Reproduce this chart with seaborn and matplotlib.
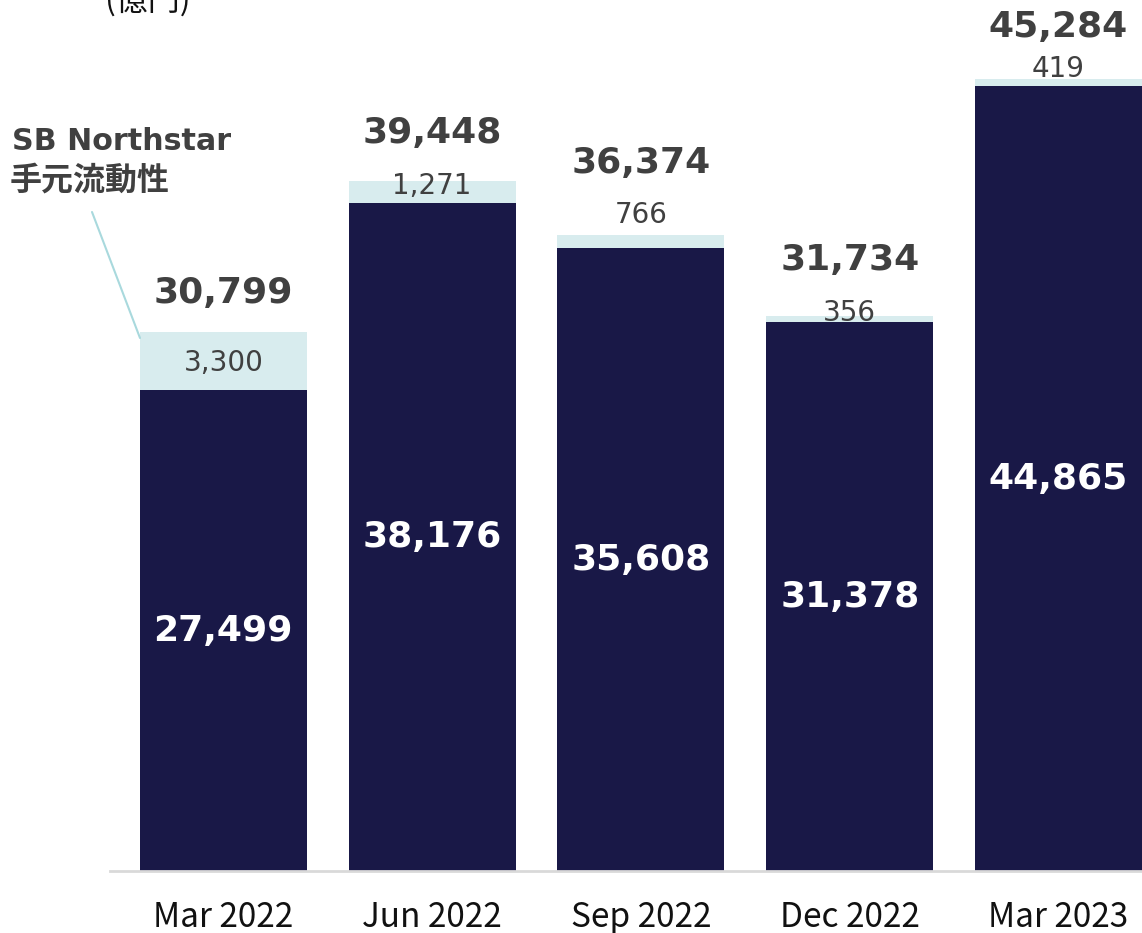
import matplotlib
matplotlib.use('Agg')
import matplotlib.pyplot as plt
import seaborn as sns

# data (億円)
periods = ['Mar 2022', 'Jun 2022', 'Sep 2022', 'Dec 2022', 'Mar 2023']
group_liquidity = [27499, 38176, 35608, 31378, 44865]
northstar_liquidity = [3300, 1271, 766, 356, 419]
totals = [30799, 39448, 36374, 31734, 45284]

dark = '#191847'
light = '#d8ecee'
grey = '#404040'

sns.set_theme(style='white')
plt.rcParams['font.family'] = ['DejaVu Sans', 'Noto Sans CJK JP']

fig = plt.figure(figsize=(11.42, 9.33), dpi=100)
ax = fig.add_axes([110 / 1142, 62 / 933, 1032 / 1142, 871 / 933])

sns.barplot(x=periods, y=totals, color=light, width=0.8, saturation=1, linewidth=0, ax=ax)
sns.barplot(x=periods, y=group_liquidity, color=dark, width=0.8, saturation=1, linewidth=0, ax=ax)

ax.set_xlim(-0.543, 4.4)
ax.set_ylim(0, 49800)
ax.set_yticks([])
ax.set_xlabel('')
ax.set_ylabel('')
for s in ['top', 'right', 'left']:
    ax.spines[s].set_visible(False)
ax.spines['bottom'].set_color('#d9d9d9')
ax.spines['bottom'].set_linewidth(2)
ax.tick_params(axis='x', length=0, pad=21, labelsize=24, labelcolor='#111111')
for t in ax.get_xticklabels():
    t.set_family(['Noto Sans CJK JP'])

# label offsets in pixels (small label relative to bar top, total relative to small label)
small_dy = [-31, -5, 20, 3, 10]
total_dy = [70, 53, 52, 53, 42]

for i in range(len(periods)):
    ax.text(i, group_liquidity[i] / 2, f'{group_liquidity[i]:,}', ha='center', va='center',
            color='white', fontsize=26, fontweight='bold', family='DejaVu Sans')
    ax.annotate(f'{northstar_liquidity[i]:,}', (i, totals[i]), xytext=(0, small_dy[i] * 0.72),
                textcoords='offset points', ha='center', va='center', color=grey, fontsize=20,
                family='DejaVu Sans')
    ax.annotate(f'{totals[i]:,}', (i, totals[i]), xytext=(0, (small_dy[i] + total_dy[i]) * 0.72),
                textcoords='offset points', ha='center', va='center', color=grey,
                fontsize=26, fontweight='bold', family='DejaVu Sans')

# unit label, partly cut off at top as in the original slide
fig.text(148 / 1142, 1 - 10 / 933, '(億円)', ha='center', va='baseline', fontsize=23,
         color='#111111', family=['Noto Sans CJK JP'])

# SB Northstar callout
fig.text(12 / 1142, 1 - 141 / 933, 'SB Northstar', ha='left', va='center',
         fontsize=21.7, fontweight='bold', color=grey, family='DejaVu Sans')
fig.text(10 / 1142, 1 - 181 / 933, '手元流動性', ha='left', va='center',
         fontsize=23, fontweight='bold', color=grey, family=['Noto Sans CJK JP'])
fig.add_artist(plt.Line2D([92 / 1142, 140 / 1142], [1 - 212 / 933, 1 - 338 / 933],
                          color='#a9d9dd', lw=1.5, transform=fig.transFigure))

fig.savefig('out.png', dpi=100)
